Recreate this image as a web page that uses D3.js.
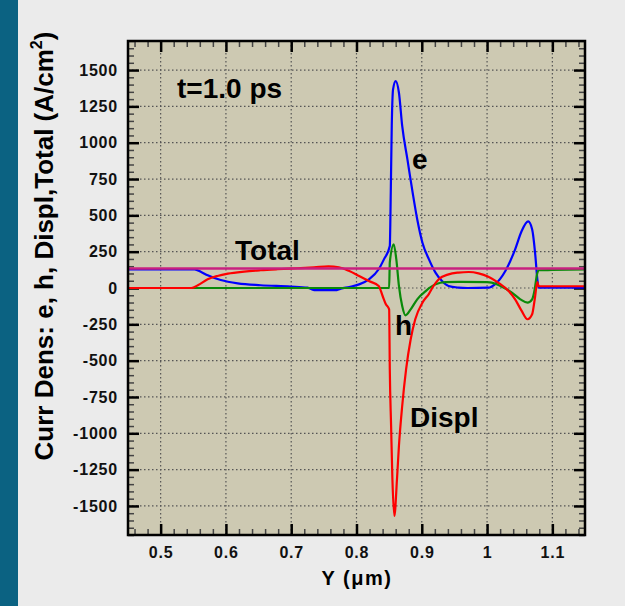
<!DOCTYPE html>
<html>
<head>
<meta charset="utf-8">
<script src="https://cdn.jsdelivr.net/npm/d3@7"></script>
<style>
  body { margin: 0; background: #ebebeb; }
  svg { display: block; }
  .tick text { font-family: "Liberation Sans", Arial, sans-serif; font-weight: bold; font-size: 16px; fill: #111; letter-spacing: 0.8px; }
  .lbl { font-family: "Liberation Sans", Arial, sans-serif; font-weight: bold; fill: #000; }
</style>
</head>
<body>
<div id="chart"></div>
<script>
// curves: [Y (um), current density (A/cm^2)]
var eCurve = [[0.45,128],[0.552,128],[0.562,110],[0.572,87],[0.592,55],[0.618,32],[0.653,19],[0.699,10],[0.725,2],[0.735,-14],
  [0.770,-14],[0.776,-5],[0.789,7],[0.804,25],[0.819,60],[0.834,129],[0.842,197],[0.851,289],[0.8525,658],[0.854,1115],
  [0.856,1367],[0.860,1424],[0.865,1344],[0.870,1115],[0.878,885],[0.886,656],[0.893,473],[0.901,312],[0.911,197],[0.921,106],
  [0.931,48],[0.941,14],[0.956,3],[0.970,0],[1.002,2],[1.012,25],[1.028,117],[1.043,266],[1.053,392],[1.063,458],
  [1.069,404],[1.074,220],[1.077,60],[1.079,3],[1.15,3]];

var hCurve = [[0.45,0],[0.850,0],[0.851,177],[0.857,300],[0.861,197],[0.865,14],[0.870,-124],[0.875,-188],[0.883,-147],
  [0.893,-78],[0.906,-21],[0.921,25],[0.936,41],[0.960,42],[1.000,40],[1.007,37],[1.022,10],[1.038,-32],[1.051,-78],
  [1.062,-101],[1.069,-78],[1.073,-9],[1.076,83],[1.079,122],[1.100,124],[1.15,128]];

var displCurve = [[0.45,0],[0.547,0],[0.557,19],[0.572,60],[0.587,83],[0.603,99],[0.628,113],[0.653,122],[0.679,129],
  [0.710,136],[0.735,142],[0.757,149],[0.773,143],[0.789,117],[0.804,83],[0.819,48],[0.834,14],[0.840,-55],[0.845,-112],
  [0.850,-147],[0.851,-560],[0.853,-950],[0.855,-1316],[0.858,-1569],[0.862,-1316],[0.865,-1087],[0.870,-812],[0.876,-559],
  [0.883,-353],[0.890,-215],[0.901,-101],[0.911,-40],[0.918,14],[0.926,60],[0.941,94],[0.956,106],[0.972,110],[0.987,101],
  [1.002,78],[1.017,37],[1.033,-21],[1.043,-78],[1.053,-158],[1.062,-215],[1.069,-181],[1.073,-78],[1.077,40],[1.079,12],[1.15,12]];

var totalCurve = [[0.45,135],[1.15,135]];

var xTicks = [0.5, 0.6, 0.7, 0.8, 0.9, 1.0, 1.1];
var yTicks = [1500, 1250, 1000, 750, 500, 250, 0, -250, -500, -750, -1000, -1250, -1500];

var svg = d3.select("#chart").append("svg").attr("width", 625).attr("height", 606);

svg.append("rect").attr("x", 0).attr("y", 0).attr("width", 18).attr("height", 606).attr("fill", "#0b6282");

var pLeft = 128, pRight = 585, pTop = 41, pBottom = 535;

var x = d3.scaleLinear().domain([0.45, 1.15]).range([pLeft, pRight]);
var y = d3.scaleLinear().domain([-1700, 1700]).range([pBottom, pTop]);

svg.append("rect")
    .attr("x", pLeft).attr("y", pTop)
    .attr("width", pRight - pLeft).attr("height", pBottom - pTop)
    .attr("fill", "#cdc9b2");

// dotted grid
svg.append("g").selectAll("line").data(xTicks).enter().append("line")
    .attr("x1", function(d) { return x(d); }).attr("x2", function(d) { return x(d); })
    .attr("y1", pTop).attr("y2", pBottom)
    .attr("stroke", "#555").attr("stroke-width", 1.2).attr("stroke-dasharray", "1.5,2.5");
svg.append("g").selectAll("line").data(yTicks).enter().append("line")
    .attr("y1", function(d) { return y(d); }).attr("y2", function(d) { return y(d); })
    .attr("x1", pLeft).attr("x2", pRight)
    .attr("stroke", "#555").attr("stroke-width", 1.2).attr("stroke-dasharray", "1.5,2.5");

// minor ticks
var xMinor = d3.range(0.46, 1.145, 0.02).filter(function(v) { return Math.abs(v * 10 - Math.round(v * 10)) > 0.01; });
var yMinor = d3.range(-1700, 1701, 50).filter(function(v) { return v % 250 !== 0; });

function minorAxis(axis, tr) {
    var g = svg.append("g").attr("transform", tr).call(axis.tickSize(-6).tickFormat(""));
    g.select(".domain").remove();
    g.selectAll("line").attr("stroke", "#444").attr("stroke-width", 1.5);
}
minorAxis(d3.axisBottom(x).tickValues(xMinor), "translate(0," + pBottom + ")");
minorAxis(d3.axisTop(x).tickValues(xMinor), "translate(0," + pTop + ")");
minorAxis(d3.axisLeft(y).tickValues(yMinor), "translate(" + pLeft + ",0)");
minorAxis(d3.axisRight(y).tickValues(yMinor), "translate(" + pRight + ",0)");

function majorAxis(axis, tr, labels) {
    var g = svg.append("g").attr("transform", tr).call(axis);
    g.select(".domain").remove();
    g.selectAll("line").attr("stroke", "#000").attr("stroke-width", 2.5);
    if (!labels) g.selectAll("text").remove();
    return g;
}
majorAxis(d3.axisBottom(x).tickValues(xTicks).tickSize(-11).tickPadding(12)
    .tickFormat(function(d) { return String(+d.toFixed(2)); }), "translate(0," + pBottom + ")", true);
majorAxis(d3.axisTop(x).tickValues(xTicks).tickSize(-11).tickFormat(""), "translate(0," + pTop + ")", false);
majorAxis(d3.axisLeft(y).tickValues(yTicks).tickSize(-11).tickPadding(10)
    .tickFormat(function(d) { return d; }), "translate(" + pLeft + ",0)", true);
majorAxis(d3.axisRight(y).tickValues(yTicks).tickSize(-11).tickFormat(""), "translate(" + pRight + ",0)", false);

// curves
var line = d3.line()
    .x(function(d) { return x(d[0]); })
    .y(function(d) { return y(d[1]); })
    .curve(d3.curveMonotoneX);

var plot = svg.append("g");
plot.append("path").datum(eCurve).attr("d", line).attr("fill", "none").attr("stroke", "#0000ff").attr("stroke-width", 2.2);
plot.append("path").datum(hCurve).attr("d", line).attr("fill", "none").attr("stroke", "#0a8a0a").attr("stroke-width", 2.2);
plot.append("path").datum(displCurve).attr("d", line).attr("fill", "none").attr("stroke", "#ff0000").attr("stroke-width", 2.2);
plot.append("path").datum(totalCurve).attr("d", line).attr("fill", "none").attr("stroke", "#c8207f").attr("stroke-width", 2.5);

// frame
svg.append("rect")
    .attr("x", pLeft).attr("y", pTop)
    .attr("width", pRight - pLeft).attr("height", pBottom - pTop)
    .attr("fill", "none").attr("stroke", "#000").attr("stroke-width", 2.5);

// annotations
svg.append("text").attr("class", "lbl").attr("x", 177).attr("y", 98).style("font-size", "28px").text("t=1.0 ps");
svg.append("text").attr("class", "lbl").attr("x", 235).attr("y", 260).style("font-size", "28px").text("Total");
svg.append("text").attr("class", "lbl").attr("x", 412).attr("y", 169).style("font-size", "28px").text("e");
svg.append("text").attr("class", "lbl").attr("x", 395).attr("y", 335).style("font-size", "28px").text("h");
svg.append("text").attr("class", "lbl").attr("x", 410).attr("y", 427).style("font-size", "28px").text("Displ");

// axis titles
var yt = svg.append("text").attr("class", "lbl")
    .attr("transform", "translate(53,246) rotate(-90)")
    .attr("text-anchor", "middle")
    .style("font-size", "26px");
yt.append("tspan").text("Curr Dens: e, h, Displ,Total (A/cm");
yt.append("tspan").attr("dy", -11).style("font-size", "16px").text("2");
yt.append("tspan").attr("dy", 11).text(")");

svg.append("text").attr("class", "lbl")
    .attr("x", 357).attr("y", 585)
    .attr("text-anchor", "middle")
    .style("font-size", "20px").style("letter-spacing", "1.5px")
    .text("Y (\u03bcm)");
</script>
</body>
</html>
